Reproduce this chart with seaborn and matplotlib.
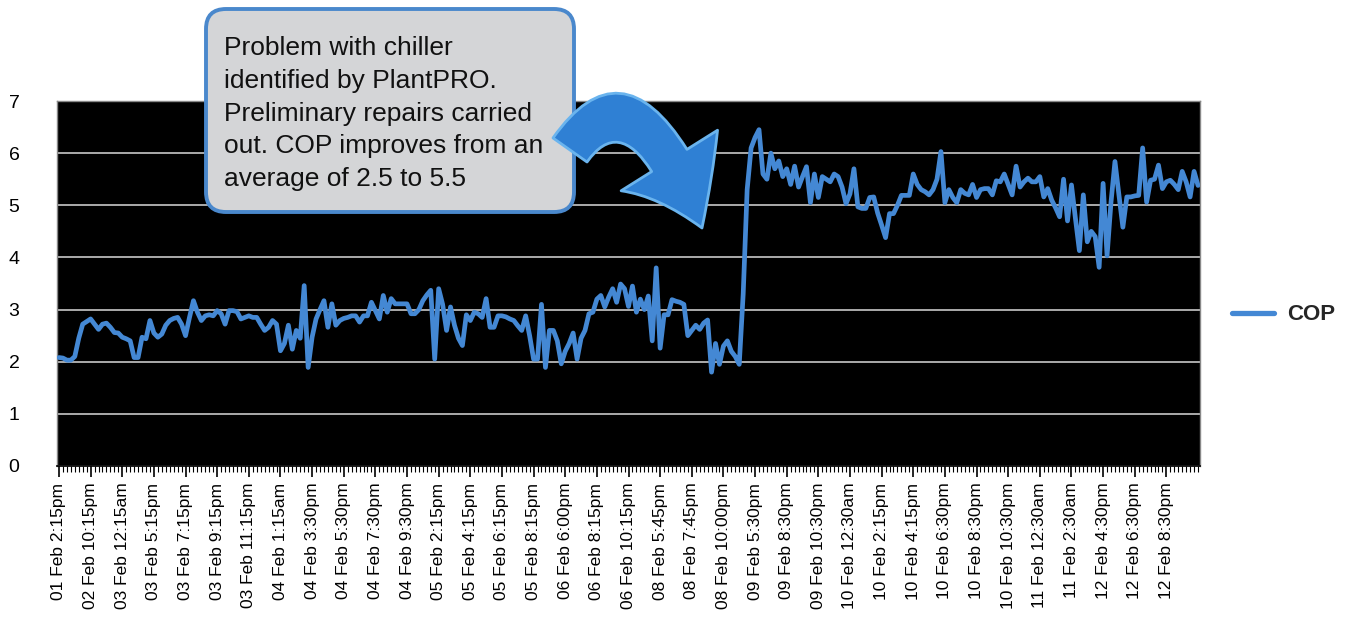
import numpy as np
import pandas as pd
import matplotlib
matplotlib.use("Agg")
import matplotlib.pyplot as plt
import seaborn as sns
from matplotlib.patches import FancyBboxPatch, FancyArrowPatch
from matplotlib.path import Path
from matplotlib.ticker import FixedLocator

# ---------------- data ----------------
cop = [
    2.08, 2.07, 2.03, 2.03, 2.10, 2.45, 2.72, 2.77, 2.82, 2.72,
    2.62, 2.72, 2.74, 2.66, 2.56, 2.55, 2.47, 2.44, 2.40, 2.08,
    2.08, 2.47, 2.44, 2.79, 2.55, 2.47, 2.53, 2.70, 2.79, 2.83,
    2.85, 2.72, 2.50, 2.85, 3.17, 2.95, 2.79, 2.88, 2.90, 2.88,
    2.98, 2.92, 2.72, 2.98, 2.98, 2.96, 2.82, 2.85, 2.88, 2.85,
    2.85, 2.72, 2.60, 2.66, 2.79, 2.72, 2.21, 2.35, 2.70, 2.24,
    2.60, 2.45, 3.46, 1.89, 2.47, 2.82, 3.00, 3.17, 2.66, 3.11,
    2.70, 2.79, 2.83, 2.85, 2.88, 2.88, 2.76, 2.88, 2.88, 3.14,
    2.98, 2.82, 3.27, 2.95, 3.21, 3.11, 3.11, 3.11, 3.11, 2.92,
    2.92, 3.00, 3.17, 3.28, 3.37, 2.05, 3.40, 3.10, 2.60, 3.05,
    2.70, 2.45, 2.31, 2.90, 2.79, 2.95, 2.92, 2.85, 3.21, 2.66,
    2.66, 2.88, 2.88, 2.86, 2.82, 2.79, 2.69, 2.60, 2.88, 2.50,
    2.05, 2.05, 3.10, 1.89, 2.60, 2.60, 2.40, 1.96, 2.20, 2.35,
    2.55, 2.05, 2.45, 2.60, 2.92, 2.95, 3.20, 3.27, 3.05, 3.24,
    3.40, 3.14, 3.49, 3.40, 3.06, 3.45, 2.95, 3.20, 3.00, 3.26,
    2.40, 3.80, 2.26, 2.90, 2.90, 3.19, 3.16, 3.14, 3.10, 2.50,
    2.60, 2.70, 2.62, 2.74, 2.80, 1.80, 2.35, 1.95, 2.30, 2.40,
    2.20, 2.10, 1.95, 3.30, 5.30, 6.10, 6.30, 6.45, 5.60, 5.50,
    6.00, 5.70, 5.85, 5.55, 5.70, 5.40, 5.75, 5.35, 5.55, 5.74,
    5.05, 5.60, 5.15, 5.55, 5.50, 5.45, 5.60, 5.55, 5.35, 5.03,
    5.22, 5.70, 4.97, 4.94, 4.94, 5.15, 5.16, 4.85, 4.62, 4.38,
    4.84, 4.84, 5.00, 5.19, 5.19, 5.19, 5.60, 5.40, 5.30, 5.26,
    5.20, 5.30, 5.50, 6.03, 5.05, 5.30, 5.15, 5.05, 5.30, 5.23,
    5.20, 5.40, 5.15, 5.30, 5.32, 5.32, 5.20, 5.47, 5.45, 5.60,
    5.40, 5.20, 5.75, 5.35, 5.45, 5.52, 5.45, 5.45, 5.55, 5.16,
    5.32, 5.10, 4.95, 4.78, 5.50, 4.70, 5.39, 4.75, 4.13, 5.20,
    4.30, 4.50, 4.40, 3.81, 5.42, 4.03, 5.06, 5.84, 5.20, 4.58,
    5.16, 5.16, 5.18, 5.19, 6.10, 5.06, 5.48, 5.50, 5.77, 5.32,
    5.45, 5.48, 5.40, 5.30, 5.65, 5.45, 5.16, 5.65, 5.38,
]

tick_labels = [
    "01 Feb 2:15pm", "02 Feb 10:15pm", "03 Feb 12:15am", "03 Feb 5:15pm",
    "03 Feb 7:15pm", "03 Feb 9:15pm", "03 Feb 11:15pm", "04 Feb 1:15am",
    "04 Feb 3:30pm", "04 Feb 5:30pm", "04 Feb 7:30pm", "04 Feb 9:30pm",
    "05 Feb 2:15pm", "05 Feb 4:15pm", "05 Feb 6:15pm", "05 Feb 8:15pm",
    "06 Feb 6:00pm", "06 Feb 8:15pm", "06 Feb 10:15pm", "08 Feb 5:45pm",
    "08 Feb 7:45pm", "08 Feb 10:00pm", "09 Feb 5:30pm", "09 Feb 8:30pm",
    "09 Feb 10:30pm", "10 Feb 12:30am", "10 Feb 2:15pm", "10 Feb 4:15pm",
    "10 Feb 6:30pm", "10 Feb 8:30pm", "10 Feb 10:30pm", "11 Feb 12:30am",
    "11 Feb 2:30am", "12 Feb 4:30pm", "12 Feb 6:30pm", "12 Feb 8:30pm",
]
label_step = 8
y_ticks = [0, 1, 2, 3, 4, 5, 6, 7]
series_name = "COP"
callout_lines = [
    "Problem with chiller",
    "identified by PlantPRO.",
    "Preliminary repairs carried",
    "out. COP improves from an",
    "average of 2.5 to 5.5",
]

# ---------------- style ----------------
sns.set_theme(style="white")
plt.rcParams["font.family"] = ["Liberation Sans", "DejaVu Sans"]

W, H = 1357, 631
fig = plt.figure(figsize=(W / 100, H / 100), dpi=100)
fig.patch.set_facecolor("white")

ax = fig.add_axes([57 / W, 1 - 466 / H, (1200 - 57) / W, (466 - 101) / H])
df = pd.DataFrame({"idx": np.arange(len(cop)), series_name: cop})
sns.lineplot(data=df, x="idx", y=series_name, ax=ax, color="#4488d4",
             linewidth=3.4, label=series_name, zorder=3)

ax.set_facecolor("black")
ax.set_xlim(-0.5, len(cop) - 0.5)
ax.set_ylim(min(y_ticks), max(y_ticks))
ax.set_yticks(y_ticks)
ax.yaxis.grid(True, color="#c8c8c8", linewidth=1.2)
ax.xaxis.grid(False)
ax.set_axisbelow(True)
ax.set_xlabel("")
ax.set_ylabel("")

major_pos = np.arange(len(tick_labels)) * label_step
ax.set_xticks(major_pos)
ax.set_xticklabels(tick_labels, rotation=90, fontsize=12.5, color="black")
ax.xaxis.set_minor_locator(FixedLocator(np.arange(len(cop))))
ax.tick_params(axis="x", which="major", bottom=True, length=8, width=1.2,
               color="black", direction="out", pad=4)
ax.tick_params(axis="x", which="minor", bottom=True, length=4, width=0.8,
               color="black", direction="out")
ax.tick_params(axis="y", which="both", left=False, length=0, pad=27,
               labelsize=14, labelcolor="black")
for s in ["top", "right", "left"]:
    ax.spines[s].set_color("#888888")
    ax.spines[s].set_linewidth(1.0)
ax.spines["bottom"].set_color("black")

leg = ax.legend(loc="center left", bbox_to_anchor=(1.028, 0.414),
                frameon=False, fontsize=16, handlelength=1.9,
                handletextpad=0.6, borderaxespad=0, borderpad=0)
for t in leg.get_texts():
    t.set_fontweight("bold")
for h in leg.get_lines():
    h.set_linewidth(3.8)

# ---------------- callout overlay ----------------
ov = fig.add_axes([0, 0, 1, 1], zorder=10)
ov.set_xlim(0, W)
ov.set_ylim(H, 0)
ov.axis("off")
ov.patch.set_alpha(0)

box = FancyBboxPatch((206, 9), 368, 203,
                     boxstyle="round,pad=0,rounding_size=20",
                     facecolor="#d4d5d7", edgecolor="#4a88cc", linewidth=2.8)
ov.add_patch(box)
for k, line in enumerate(callout_lines):
    ov.text(224, 48 + k * 32.8, line, fontsize=19, color="#111111",
            va="center", ha="left")

arrow_path = Path([(570, 150), (635, 58), (702, 228)],
                  [Path.MOVETO, Path.CURVE3, Path.CURVE3])
arrow = FancyArrowPatch(path=arrow_path,
                        arrowstyle="simple,head_length=54,head_width=82,tail_width=30",
                        mutation_scale=1, facecolor="#2f80d4", edgecolor="#6ab4ee",
                        linewidth=2.0, transform=ov.transData, zorder=11)
ov.add_patch(arrow)

fig.savefig("out.png", dpi=100, facecolor="white")
